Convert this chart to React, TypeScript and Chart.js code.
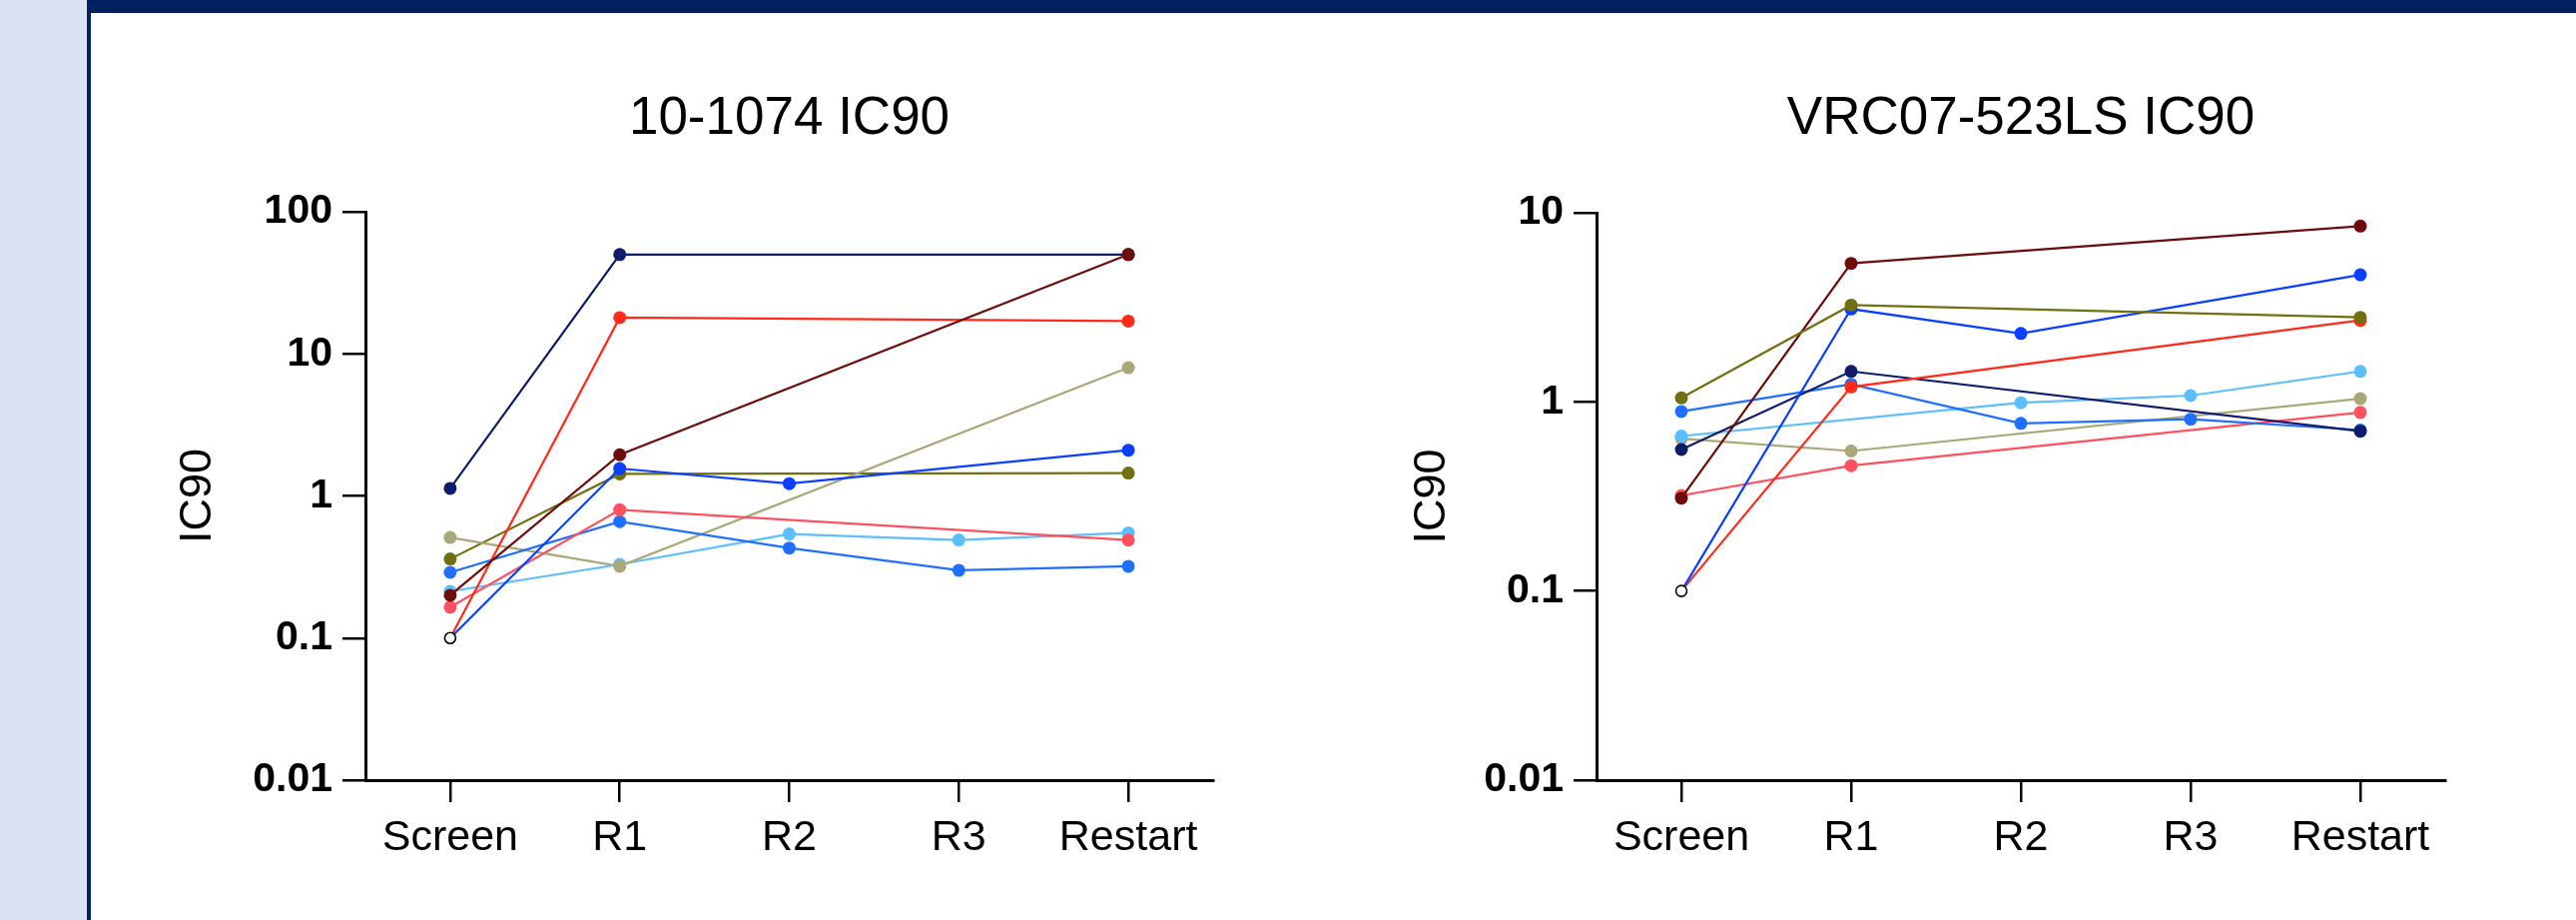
import React, { useEffect, useRef } from 'react';
import { Chart, registerables } from 'chart.js';

Chart.register(...registerables);

const FONT = '"Liberation Sans", Arial, Helvetica, sans-serif';

// ---------- data ----------
const categories = ['Screen', 'R1', 'R2', 'R3', 'Restart'];
const LOD = 0.1; // open circle (limit) value at Screen

// 10-1074 IC90
const yTicks1 = [0.01, 0.1, 1, 10, 100];
const navy1 = [1.13, 50, null, null, 50];
const red1 = [0.1, 18, null, null, 17];
const maroon1 = [0.2, 1.95, null, null, 50];
const khaki1 = [0.51, 0.32, null, null, 8];
const olive1 = [0.36, 1.43, null, null, 1.45];
const royal1 = [0.1, 1.56, 1.22, null, 2.1];
const medium1 = [0.29, 0.66, 0.43, 0.3, 0.32];
const light1 = [0.213, 0.33, 0.54, 0.49, 0.55];
const pink1 = [0.165, 0.8, null, null, 0.49];
const limit1 = [0.1, null, null, null, null];

// VRC07-523LS IC90
const yTicks2 = [0.01, 0.1, 1, 10];
const maroon2 = [0.31, 5.4, null, null, 8.5];
const royal2 = [0.1, 3.1, 2.3, null, 4.7];
const olive2 = [1.05, 3.25, null, null, 2.8];
const red2 = [0.1, 1.2, null, null, 2.7];
const navy2 = [0.56, 1.45, null, null, 0.7];
const medium2 = [0.89, 1.24, 0.77, 0.81, 0.71];
const light2 = [0.66, null, 0.99, 1.08, 1.45];
const khaki2 = [0.64, 0.55, null, null, 1.04];
const pink2 = [0.32, 0.46, null, null, 0.88];
const limit2 = [0.1, null, null, null, null];

const COLORS = {
  navy: '#0f1b6b',
  red: '#ff2a1a',
  maroon: '#6e0c0c',
  khaki: '#a8a878',
  olive: '#707010',
  royal: '#0b3fff',
  medium: '#1f6fff',
  light: '#5bbfff',
  pink: '#ff5060',
};

function line(data: (number | null)[], color: string) {
  return {
    data,
    borderColor: color,
    backgroundColor: color,
    borderWidth: 2.2,
    pointBackgroundColor: color,
    pointBorderColor: color,
    pointBorderWidth: 0,
    pointRadius: (ctx: any) => (ctx.raw === LOD && ctx.dataIndex === 0 ? 0 : 6.5),
    spanGaps: true,
    tension: 0,
  };
}

function limitSet(data: (number | null)[]) {
  return {
    data,
    showLine: false,
    borderColor: '#000',
    backgroundColor: '#fff',
    pointBackgroundColor: '#fff',
    pointBorderColor: '#000',
    pointBorderWidth: 1.6,
    pointRadius: 5.5,
    order: -1,
  };
}

const datasets1 = [
  limitSet(limit1),
  line(royal1, COLORS.royal),
  line(maroon1, COLORS.maroon),
  line(navy1, COLORS.navy),
  line(red1, COLORS.red),
  line(pink1, COLORS.pink),
  line(medium1, COLORS.medium),
  line(khaki1, COLORS.khaki),
  line(olive1, COLORS.olive),
  line(light1, COLORS.light),
];

const datasets2 = [
  limitSet(limit2),
  line(olive2, COLORS.olive),
  line(maroon2, COLORS.maroon),
  line(royal2, COLORS.royal),
  line(red2, COLORS.red),
  line(navy2, COLORS.navy),
  line(medium2, COLORS.medium),
  line(light2, COLORS.light),
  line(khaki2, COLORS.khaki),
  line(pink2, COLORS.pink),
];

type Geom = {
  left: number; top: number; w: number; h: number;
  plotLeft: number; plotRight: number; plotTop: number; plotBottom: number;
  titleCY: number; yTitleCX: number;
};

// Draws the chart title centred over the plot area (not the whole canvas)
const plotTitlePlugin = {
  id: 'plotTitle',
  afterDraw(chart: any, _args: any, opts: any) {
    const { ctx, chartArea } = chart;
    if (!opts || !opts.text) return;
    ctx.save();
    ctx.font = `normal ${opts.size}px ${FONT}`;
    ctx.fillStyle = '#000';
    ctx.textAlign = 'center';
    ctx.textBaseline = 'middle';
    ctx.fillText(opts.text, (chartArea.left + chartArea.right) / 2, opts.y);
    ctx.restore();
  },
};

function Panel({ title, yTicks, datasets, g }: { title: string; yTicks: number[]; datasets: any[]; g: Geom }) {
  const ref = useRef<HTMLCanvasElement>(null);
  useEffect(() => {
    if (!ref.current) return;
    const yTitleFont = 45;
    const chart = new Chart(ref.current, {
      type: 'line',
      data: { labels: categories, datasets },
      plugins: [plotTitlePlugin],
      options: {
        responsive: false,
        animation: false,
        devicePixelRatio: 1,
        layout: { padding: { left: 0, top: g.plotTop - g.top, bottom: 0, right: g.w - (g.plotRight - g.left) } },
        plugins: {
          legend: { display: false },
          tooltip: { enabled: false },
          title: { display: false },
          plotTitle: { text: title, size: 53, y: g.titleCY - g.top },
        },
        scales: {
          x: {
            type: 'category',
            offset: true,
            grid: {
              display: true,
              drawOnChartArea: false,
              drawTicks: true,
              tickLength: 22,
              color: '#000',
              lineWidth: 2.5,
              offset: false,
            },
            border: { display: true, color: '#000', width: 3 },
            ticks: {
              color: '#000',
              font: { family: FONT, size: 43, lineHeight: 1.2 },
              padding: 10,
              maxRotation: 0,
              autoSkip: false,
            },
            afterFit: (s: any) => { s.height = g.top + g.h - g.plotBottom; },
          },
          y: {
            type: 'logarithmic',
            min: yTicks[0],
            max: yTicks[yTicks.length - 1],
            afterBuildTicks: (s: any) => { s.ticks = yTicks.map((v) => ({ value: v })); },
            grid: {
              display: true,
              drawOnChartArea: false,
              drawTicks: true,
              tickLength: 23,
              color: '#000',
              lineWidth: 2.5,
            },
            border: { display: true, color: '#000', width: 3 },
            ticks: {
              color: '#000',
              font: { family: FONT, size: 41, weight: 'bold', lineHeight: 1.2 },
              padding: 10,
              callback: (v: any) => String(v),
            },
            title: {
              display: true,
              text: 'IC90',
              color: '#000',
              font: { family: FONT, size: yTitleFont, weight: 'normal', lineHeight: 1.2 },
              padding: { top: g.yTitleCX - g.left - (yTitleFont * 1.2) / 2, bottom: 0 },
            },
            afterFit: (s: any) => { s.width = g.plotLeft - g.left; },
          },
        },
      } as any,
    });
    return () => chart.destroy();
  }, []);
  return (
    <canvas
      ref={ref}
      width={g.w}
      height={g.h}
      style={{ position: 'absolute', left: g.left, top: g.top, width: g.w, height: g.h }}
    />
  );
}

const geom1: Geom = { left: 100, top: 20, w: 1150, h: 880, plotLeft: 366, plotRight: 1215, plotTop: 212, plotBottom: 781, titleCY: 119, yTitleCX: 199 };
const geom2: Geom = { left: 1330, top: 20, w: 1150, h: 880, plotLeft: 1599, plotRight: 2449, plotTop: 213, plotBottom: 781, titleCY: 119, yTitleCX: 1435 };

export default function App() {
  useEffect(() => {
    document.body.style.margin = '0';
  }, []);
  return (
    <div style={{ position: 'fixed', left: 0, top: 0, width: 2580, height: 921, background: '#ffffff', overflow: 'hidden' }}>
      <div style={{ position: 'absolute', left: 0, top: 0, width: 87, height: 921, background: '#dae3f3' }} />
      <div style={{ position: 'absolute', left: 87, top: 0, width: 4, height: 921, background: '#002060' }} />
      <div style={{ position: 'absolute', left: 87, top: 0, width: 2493, height: 13, background: '#002060' }} />
      <Panel title="10-1074 IC90" yTicks={yTicks1} datasets={datasets1} g={geom1} />
      <Panel title="VRC07-523LS IC90" yTicks={yTicks2} datasets={datasets2} g={geom2} />
    </div>
  );
}
